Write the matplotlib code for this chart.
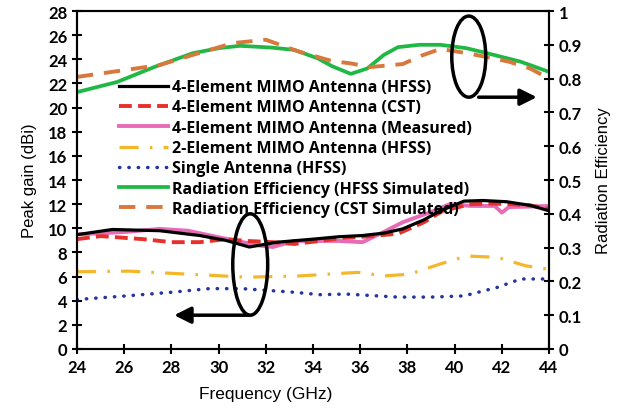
import numpy as np
import matplotlib.pyplot as plt
from matplotlib.patches import Ellipse

# frequency (GHz) / value pairs
f_hfss4 = [24.1, 25.5, 27.5, 29.2, 30.3, 31.3, 32.5, 34.0, 35.1, 36.1, 37.0, 37.8, 38.7, 39.4, 40.4, 41.2, 42.2, 43.2, 44.0]
g_hfss4 = [9.5, 9.9, 9.8, 9.4, 9.0, 8.45, 8.85, 9.1, 9.3, 9.4, 9.6, 9.95, 10.7, 11.45, 12.25, 12.3, 12.2, 11.9, 11.45]

f_cst4 = [24.0, 25.0, 26.8, 28.0, 29.2, 30.3, 31.2, 32.3, 33.2, 34.3, 35.2, 36.1, 37.6, 38.7, 39.5, 40.7, 41.5, 42.3, 43.2, 44.0]
g_cst4 = [9.1, 9.35, 9.1, 8.85, 8.85, 9.1, 8.95, 8.85, 8.7, 8.95, 9.2, 9.3, 9.55, 10.5, 11.45, 12.0, 12.05, 12.0, 11.9, 11.6]

f_meas = [24.1, 26.1, 27.5, 28.7, 29.9, 30.9, 31.8, 32.3, 33.2, 34.2, 35.1, 36.1, 37.0, 37.8, 39.0, 39.8, 40.7, 41.7, 42.0, 42.3, 43.2, 44.0]
g_meas = [9.5, 9.7, 9.95, 9.8, 9.3, 8.9, 8.55, 8.45, 8.95, 8.95, 8.95, 8.85, 9.7, 10.5, 11.35, 12.0, 11.85, 11.85, 11.3, 11.75, 11.8, 11.85]

f_two = [24.0, 26.2, 28.7, 31.2, 33.4, 35.9, 37.0, 38.1, 39.4, 40.5, 41.8, 43.0, 44.0]
g_two = [6.4, 6.45, 6.2, 5.95, 6.05, 6.35, 6.05, 6.2, 7.05, 7.7, 7.6, 6.9, 6.6]

f_single = [24.0, 26.1, 28.0, 29.6, 31.0, 33.2, 34.3, 35.4, 37.6, 39.0, 40.4, 41.8, 42.8, 44.0]
g_single = [4.1, 4.4, 4.7, 5.0, 5.0, 4.7, 4.5, 4.55, 4.3, 4.3, 4.4, 5.1, 5.8, 5.8]

f_eff_hfss = [24.0, 25.7, 27.3, 28.9, 30.0, 30.9, 32.2, 33.2, 34.2, 34.8, 35.6, 36.3, 37.0, 37.6, 38.5, 39.4, 40.5, 41.5, 42.8, 44.0]
e_eff_hfss = [0.76, 0.79, 0.835, 0.875, 0.89, 0.897, 0.892, 0.885, 0.86, 0.837, 0.814, 0.83, 0.87, 0.893, 0.9, 0.9, 0.89, 0.873, 0.85, 0.82]

f_eff_cst = [24.0, 25.0, 26.0, 27.5, 28.9, 30.6, 32.0, 33.4, 34.8, 35.6, 36.4, 37.8, 38.6, 39.4, 40.7, 42.3, 43.2, 44.0]
e_eff_cst = [0.805, 0.815, 0.825, 0.84, 0.87, 0.905, 0.915, 0.88, 0.852, 0.845, 0.834, 0.843, 0.868, 0.888, 0.873, 0.85, 0.83, 0.8]

labels = ['4-Element MIMO Antenna (HFSS)', '4-Element MIMO Antenna (CST)',
          '4-Element MIMO Antenna (Measured)', '2-Element MIMO Antenna (HFSS)',
          'Single Antenna (HFSS)', 'Radiation Efficiency (HFSS Simulated)',
          'Radiation Efficiency (CST Simulated)']

plt.rcParams['font.family'] = ['Lato', 'DejaVu Sans']

fig = plt.figure(figsize=(6.17, 4.14), dpi=100)
ax = fig.add_axes([0.1248, 0.1546, 0.765, 0.8164])
ax2 = ax.twinx()

h = []
h += ax.plot(f_hfss4, g_hfss4, color='black', lw=2.3, label=labels[0], zorder=5)
h += ax.plot(f_cst4, g_cst4, color='#e5302b', lw=2.8, dashes=(3.3, 1.6), label=labels[1], zorder=4)
h += ax.plot(f_meas, g_meas, color='#e86bb8', lw=2.8, label=labels[2], zorder=3)
h += ax.plot(f_two, g_two, color='#f4b72c', lw=2.3, dashes=(6, 3.5, 0.8, 3.5), label=labels[3])
h += ax.plot(f_single, g_single, color='#24359e', lw=2.5, linestyle=(0, (0.1, 2.6)),
             dash_capstyle='round', label=labels[4])
h += ax2.plot(f_eff_hfss, e_eff_hfss, color='#20b845', lw=2.7, label=labels[5])
h += ax2.plot(f_eff_cst, e_eff_cst, color='#d8783c', lw=2.8, dashes=(4.2, 2.8), label=labels[6])

ax.set_xlim(24, 44)
ax.set_ylim(0, 28)
ax.set_xticks(np.arange(24, 45, 2))
ax.set_yticks(np.arange(0, 29, 2))
ax2.set_ylim(0, 1)
ax2.set_yticks(np.round(np.arange(0, 1.01, 0.1), 1))
ax2.set_yticklabels(['0', '0.1', '0.2', '0.3', '0.4', '0.5', '0.6', '0.7', '0.8', '0.9', '1'])

for a in (ax, ax2):
    a.tick_params(direction='inout', length=7, width=1.5, labelsize=12)
    for lab in a.get_xticklabels() + a.get_yticklabels():
        lab.set_fontweight('bold')
    for s in a.spines.values():
        s.set_linewidth(1.5)

ax.set_xlabel('Frequency (GHz)', fontsize=12.5, family=['Liberation Sans'])
ax.xaxis.set_label_coords(0.40, -0.11)
ax.set_ylabel('Peak gain (dBi)', fontsize=12, family=['Liberation Sans'], labelpad=8)
ax2.set_ylabel('Radiation Efficiency', fontsize=12, family=['Liberation Sans'], labelpad=10)

leg = ax2.legend(handles=h, loc='upper left', bbox_to_anchor=(0.072, 0.822), frameon=False,
                 prop={'family': 'Open Sans', 'size': 11.5, 'weight': 'bold'},
                 handlelength=3.1, handletextpad=0.25, labelspacing=0.27, borderpad=0)
leg.set_zorder(10)

# annotation ellipses with arrows
ax2.add_patch(Ellipse((0.83, 0.865), 0.072, 0.24, transform=ax2.transAxes,
                      fill=False, ec='black', lw=2.5, zorder=6))
ax2.annotate('', xy=(0.98, 0.745), xytext=(0.845, 0.745), xycoords='axes fraction',
             arrowprops=dict(arrowstyle='-|>,head_width=0.5,head_length=1.0', lw=2.5, color='black'))
ax2.add_patch(Ellipse((0.367, 0.25), 0.074, 0.30, transform=ax2.transAxes,
                      fill=False, ec='black', lw=2.5, zorder=6))
ax2.annotate('', xy=(0.2, 0.1), xytext=(0.37, 0.1), xycoords='axes fraction',
             arrowprops=dict(arrowstyle='-|>,head_width=0.5,head_length=1.0', lw=2.5, color='black'))

fig.savefig('out.png', dpi=100)
